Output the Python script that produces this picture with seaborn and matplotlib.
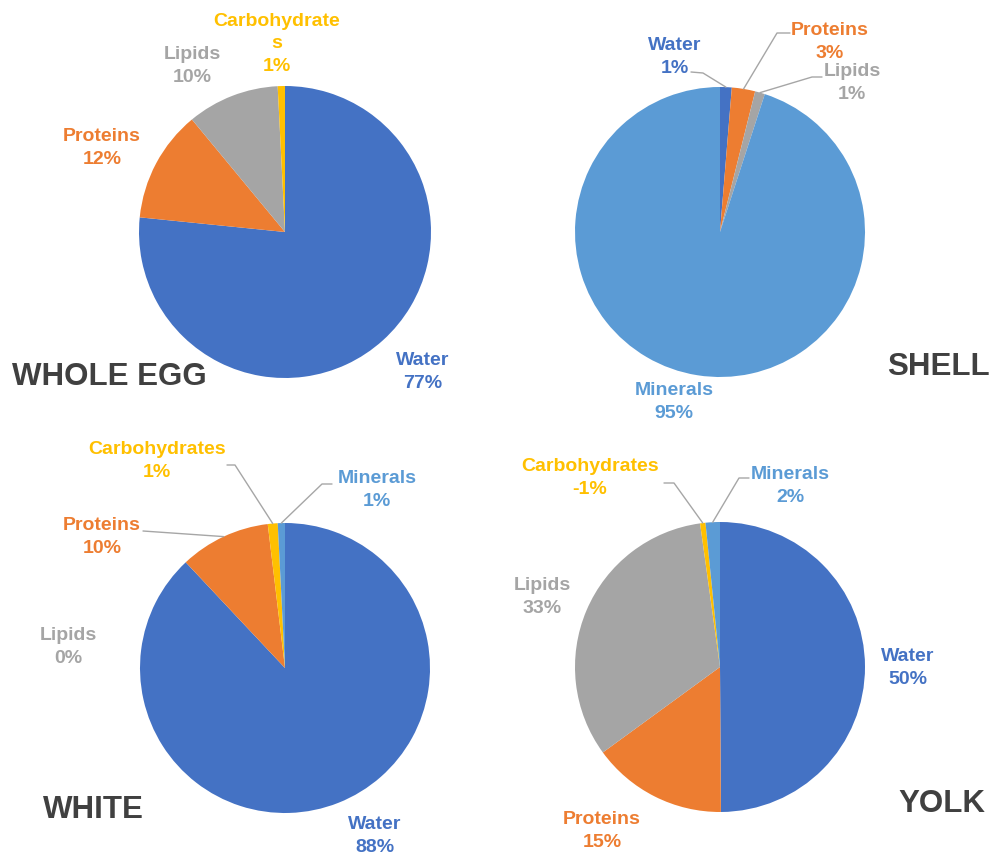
import numpy as np
import matplotlib.pyplot as plt
import seaborn as sns

# composition of an egg (percent)
egg_parts = ["WHOLE EGG", "SHELL", "WHITE", "YOLK"]

whole_egg_cats = ["Water", "Proteins", "Lipids", "Carbohydrates"]
whole_egg_vals = [76.6, 12.4, 10.2, 0.8]

shell_cats = ["Water", "Proteins", "Lipids", "Minerals"]
shell_vals = [1.3, 2.6, 1.1, 95.0]

white_cats = ["Water", "Proteins", "Lipids", "Carbohydrates", "Minerals"]
white_vals = [88.0, 10.1, 0.0, 1.1, 0.8]

yolk_cats = ["Water", "Proteins", "Lipids", "Carbohydrates", "Minerals"]
yolk_vals = [50.0, 15.1, 32.9, -0.6, 1.6]

data = {
    "WHOLE EGG": (whole_egg_cats, whole_egg_vals),
    "SHELL": (shell_cats, shell_vals),
    "WHITE": (white_cats, white_vals),
    "YOLK": (yolk_cats, yolk_vals),
}

colors = {
    "Water": "#4472C4",
    "Proteins": "#ED7D31",
    "Lipids": "#A5A5A5",
    "Carbohydrates": "#FFC000",
    "Minerals": "#5B9BD5",
}

W, H = 994, 854

# layout in pixels (x from left, y from top)
layout = {
    "WHOLE EGG": dict(
        center=(285, 233), radius=146,
        title=(12, 377, "left"),
        labels={"Carbohydrates": (277, 44), "Lipids": (192, 66),
                "Proteins": (102, 148), "Water": (423, 372)},
        wrap={"Carbohydrates": "Carbohydrate\ns"},
        leaders={},
    ),
    "SHELL": dict(
        center=(720, 233), radius=145,
        title=(990, 367, "right"),
        labels={"Water": (675, 57), "Proteins": (830, 42),
                "Lipids": (852, 83), "Minerals": (674, 402)},
        wrap={},
        leaders={"Water": [(691, 73), (703, 74)],
                 "Proteins": [(790, 34), (777, 34)],
                 "Lipids": [(822, 78), (812, 78)]},
    ),
    "WHITE": dict(
        center=(285, 669), radius=145,
        title=(43, 810, "left"),
        labels={"Carbohydrates": (157, 461), "Minerals": (377, 490),
                "Proteins": (102, 537), "Lipids": (68, 647),
                "Water": (375, 836)},
        wrap={},
        leaders={"Carbohydrates": [(227, 466), (235, 466)],
                 "Minerals": [(332, 485), (322, 485)],
                 "Proteins": [(143, 532)]},
    ),
    "YOLK": dict(
        center=(720, 668), radius=145,
        title=(985, 804, "right"),
        labels={"Carbohydrates": (590, 478), "Minerals": (790, 486),
                "Lipids": (542, 597), "Water": (908, 668),
                "Proteins": (602, 831)},
        wrap={},
        leaders={"Carbohydrates": [(664, 484), (674, 484)],
                 "Minerals": [(749, 479), (739, 479)]},
    ),
}

sns.set_theme(style="white")
plt.rcParams['font.family'] = ['Liberation Sans', 'DejaVu Sans']

fig = plt.figure(figsize=(W / 100, H / 100), dpi=100)
ax = fig.add_axes([0, 0, 1, 1])

for part in egg_parts:
    cats, vals = data[part]
    lay = layout[part]
    cx, cy = lay["center"]
    r = lay["radius"]
    pal = sns.color_palette([colors[c] for c in cats])
    wedges, _ = ax.pie(np.abs(vals), colors=pal, startangle=90, counterclock=False,
                       center=(cx, H - cy), radius=r, frame=True,
                       wedgeprops=dict(linewidth=0))

    for w, cat, v in zip(wedges, cats, vals):
        name = lay["wrap"].get(cat, cat)
        lx, ly = lay["labels"][cat]
        ax.text(lx, H - ly, f"{name}\n{round(v):.0f}%", ha="center", va="center",
                color=colors[cat], fontsize=14, fontweight="bold", linespacing=1.42)
        if cat in lay["leaders"]:
            mid = np.deg2rad((w.theta1 + w.theta2) / 2)
            pts = [(x, H - y) for x, y in lay["leaders"][cat]]
            pts.append((cx + r * np.cos(mid), H - cy + r * np.sin(mid)))
            xs, ys = zip(*pts)
            ax.plot(xs, ys, color="#A6A6A6", lw=1)

    tx, ty, ha = lay["title"]
    ax.text(tx, H - ty, part, ha=ha, va="center", color="#404040",
            fontsize=22.5, fontweight="bold")

ax.set_xlim(0, W)
ax.set_ylim(0, H)
ax.set_aspect("equal")
ax.axis("off")

fig.savefig("out.png", dpi=100, facecolor="white")
